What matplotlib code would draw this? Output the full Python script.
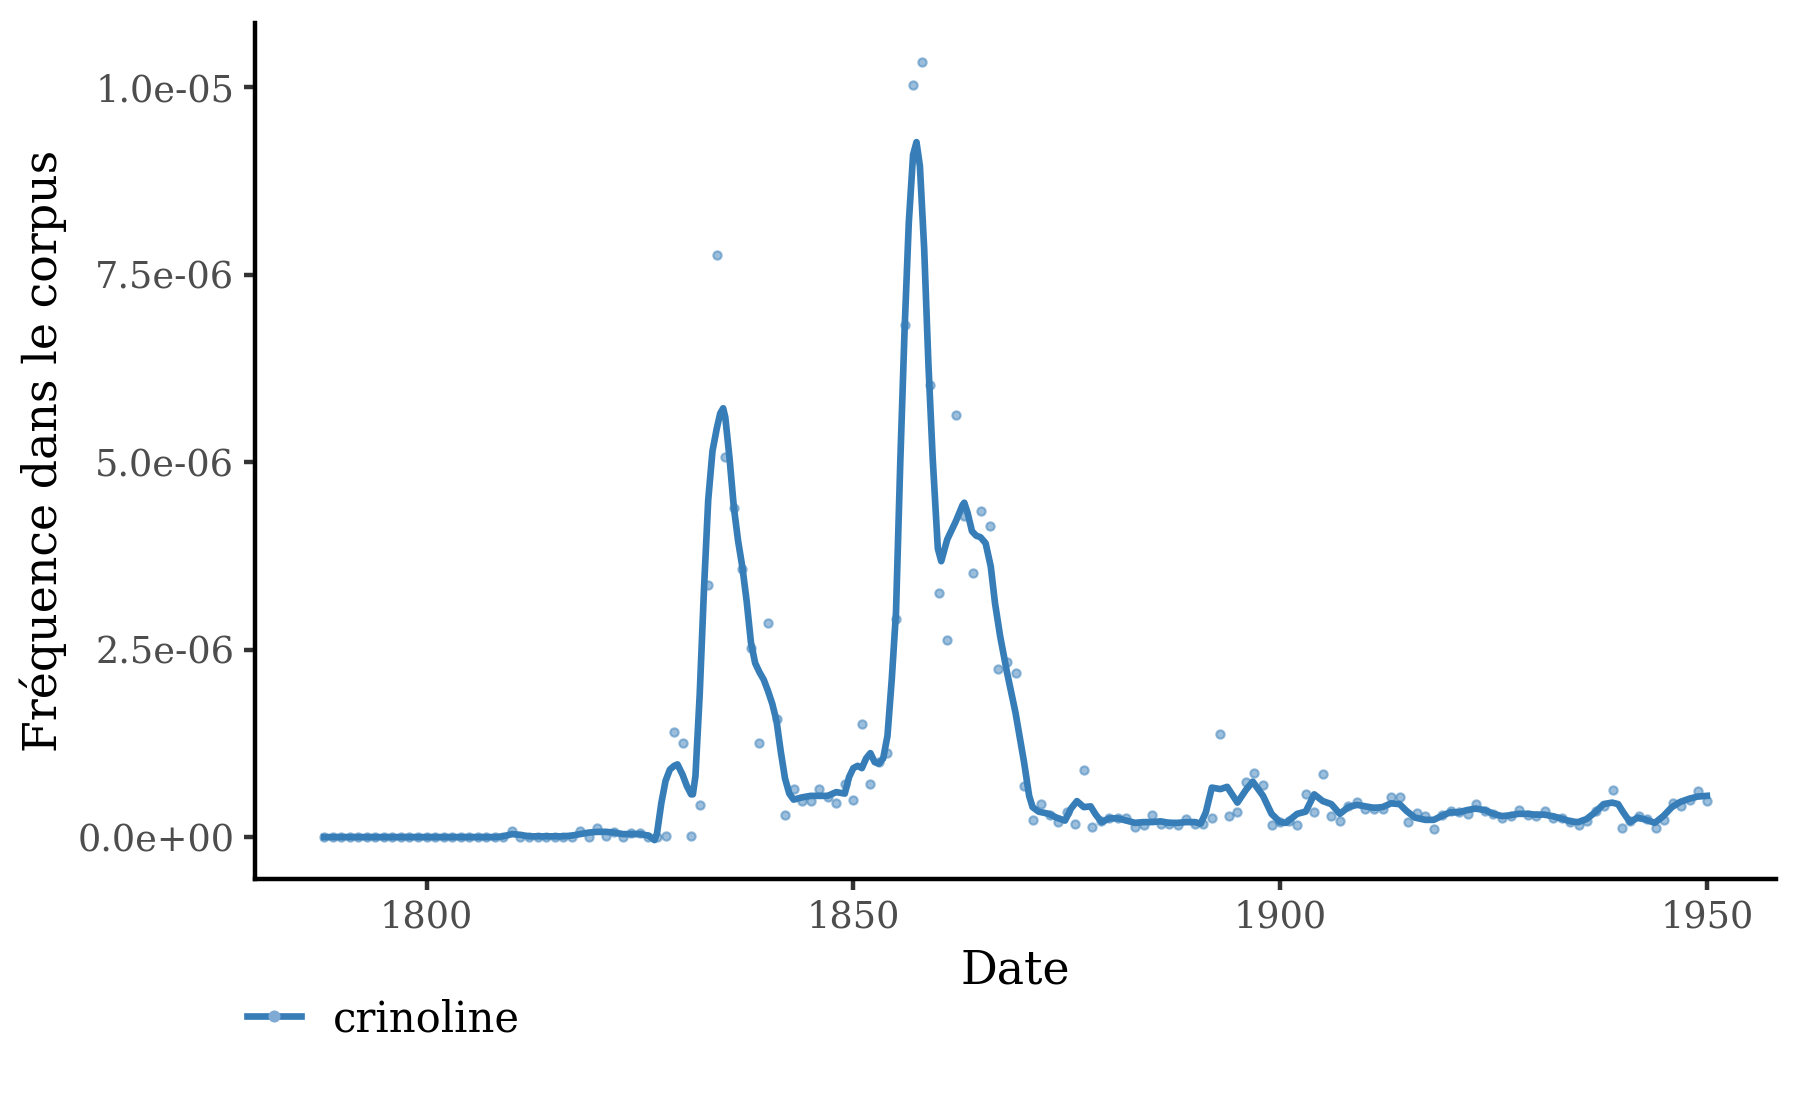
import matplotlib
matplotlib.use("Agg")
import matplotlib.pyplot as plt
from matplotlib.lines import Line2D
from matplotlib.ticker import FuncFormatter

plt.rcParams['font.family'] = ['DejaVu Serif']

# yearly frequencies (x 1e-6), 1788-1950
years = list(range(1788, 1951))
freq = [0.0] * 21 + [
    0.0, 0.08, 0.0, 0.0, 0.0, 0.0, 0.0, 0.0, 0.0, 0.08,              # 1809-1818
    0.0, 0.12, 0.02, 0.07, 0.0, 0.05, 0.06, 0.0, 0.0, 0.01,           # 1819-1828
    1.40, 1.26, 0.02, 0.43, 3.36, 7.76, 5.07, 4.39, 3.57, 2.52,       # 1829-1838
    1.26, 2.85, 1.58, 0.29, 0.64, 0.48, 0.48, 0.64, 0.53, 0.46,       # 1839-1848
    0.71, 0.50, 1.51, 0.71, 1.00, 1.12, 2.91, 6.83, 10.03, 10.34,     # 1849-1858
    6.03, 3.26, 2.63, 5.63, 4.28, 3.52, 4.35, 4.15, 2.24, 2.33,       # 1859-1868
    2.19, 0.68, 0.23, 0.44, 0.29, 0.20, 0.33, 0.17, 0.90, 0.14,       # 1869-1878
    0.22, 0.26, 0.26, 0.25, 0.14, 0.16, 0.29, 0.18, 0.17, 0.16,       # 1879-1888
    0.24, 0.18, 0.18, 0.26, 1.38, 0.28, 0.34, 0.74, 0.85, 0.69,       # 1889-1898
    0.16, 0.20, 0.22, 0.16, 0.57, 0.33, 0.84, 0.28, 0.21, 0.41,       # 1899-1908
    0.47, 0.37, 0.37, 0.38, 0.53, 0.53, 0.20, 0.32, 0.28, 0.11,       # 1909-1918
    0.29, 0.35, 0.33, 0.31, 0.44, 0.35, 0.31, 0.26, 0.28, 0.36,       # 1919-1928
    0.29, 0.28, 0.35, 0.26, 0.26, 0.20, 0.16, 0.22, 0.35, 0.42,       # 1929-1938
    0.63, 0.12, 0.22, 0.28, 0.24, 0.12, 0.23, 0.46, 0.41, 0.50,       # 1939-1948
    0.62, 0.48]                                                       # 1949-1950

# smoothed curve (x 1e-6)
smooth_x = [1788, 1798, 1808, 1809, 1810, 1811, 1812, 1816, 1817, 1818,
            1819, 1820, 1821, 1822, 1823, 1825, 1826, 1826.7, 1827, 1827.5,
            1828, 1828.5, 1829, 1829.4, 1830, 1830.5, 1831, 1831.2, 1831.5, 1832,
            1832.5, 1833, 1833.5, 1834, 1834.4, 1834.75, 1835, 1835.5, 1836, 1836.5,
            1837, 1837.5, 1838, 1838.5, 1839, 1839.5, 1840, 1840.5, 1841, 1841.5,
            1842, 1842.5, 1843, 1844, 1845, 1846, 1847, 1848, 1849, 1849.5,
            1850, 1850.5, 1851, 1851.5, 1852, 1852.5, 1853, 1853.5, 1854, 1854.5,
            1855, 1855.5, 1856, 1856.5, 1857, 1857.4, 1857.8, 1858.3, 1858.8, 1859.3,
            1859.9, 1860.3, 1861, 1862, 1862.8, 1863, 1863.4, 1863.9, 1864.4, 1864.9,
            1865.5, 1866.1, 1866.6, 1867.2, 1868, 1869, 1870, 1870.6, 1871, 1871.7,
            1872.9, 1873.8, 1874.8, 1875.5, 1876.2, 1877, 1877.8, 1878.4, 1879.1, 1880,
            1881, 1882, 1883, 1884, 1885, 1886, 1887, 1888, 1889, 1890,
            1890.7, 1891.3, 1892, 1893, 1893.8, 1895, 1896, 1896.8, 1898, 1899,
            1900, 1900.7, 1902, 1903, 1904, 1905, 1906, 1907, 1908, 1909,
            1910, 1911, 1912, 1913, 1914, 1914.8, 1915.8, 1917, 1918, 1918.9,
            1919.9, 1920.9, 1921.9, 1922.9, 1924, 1925, 1926, 1926.9, 1927.9, 1929,
            1929.9, 1930.9, 1931.9, 1932.9, 1934, 1934.9, 1935.9, 1936.9, 1937.9, 1938.9,
            1939.6, 1940.2, 1941, 1941.9, 1942.9, 1943.9, 1944.9, 1945.9, 1946.9, 1947.9,
            1948.9, 1950]
smooth_y = [0.0, 0.0, 0.0, 0.01, 0.04, 0.03, 0.01, 0.01, 0.02, 0.04,
            0.06, 0.07, 0.07, 0.06, 0.04, 0.04, 0.02, -0.04, 0.05, 0.45,
            0.75, 0.90, 0.95, 0.97, 0.83, 0.68, 0.57, 0.57, 0.81, 1.90,
            3.30, 4.50, 5.15, 5.45, 5.65, 5.72, 5.60, 5.05, 4.40, 3.95,
            3.60, 3.15, 2.60, 2.32, 2.20, 2.10, 1.95, 1.78, 1.55, 1.14,
            0.78, 0.58, 0.50, 0.53, 0.55, 0.55, 0.55, 0.60, 0.58, 0.80,
            0.92, 0.95, 0.92, 1.05, 1.12, 1.00, 0.98, 1.05, 1.35, 2.10,
            3.00, 5.00, 6.75, 8.20, 9.10, 9.27, 8.95, 7.85, 6.30, 5.05,
            3.85, 3.68, 3.97, 4.21, 4.43, 4.46, 4.32, 4.08, 4.02, 4.00,
            3.92, 3.61, 3.12, 2.68, 2.20, 1.66, 1.00, 0.55, 0.40, 0.34,
            0.31, 0.26, 0.22, 0.38, 0.48, 0.40, 0.41, 0.30, 0.20, 0.25,
            0.25, 0.22, 0.19, 0.20, 0.20, 0.21, 0.19, 0.19, 0.20, 0.20,
            0.18, 0.33, 0.66, 0.64, 0.67, 0.46, 0.63, 0.74, 0.55, 0.31,
            0.20, 0.19, 0.31, 0.34, 0.57, 0.48, 0.44, 0.31, 0.40, 0.43,
            0.41, 0.39, 0.40, 0.45, 0.44, 0.35, 0.26, 0.23, 0.23, 0.28,
            0.33, 0.33, 0.36, 0.38, 0.36, 0.31, 0.28, 0.29, 0.31, 0.31,
            0.30, 0.30, 0.28, 0.25, 0.21, 0.20, 0.24, 0.33, 0.44, 0.46,
            0.44, 0.33, 0.20, 0.26, 0.23, 0.19, 0.28, 0.40, 0.47, 0.51,
            0.54, 0.55]

word = "crinoline"
color = "#377EB8"

freq = [v * 1e-6 for v in freq]
smooth_y = [v * 1e-6 for v in smooth_y]

fig = plt.figure(figsize=(6, 3.71), dpi=300)
ax = fig.add_axes([255 / 1800, 1 - 879 / 1113, (1776 - 255) / 1800, (879 - 23) / 1113])

ax.plot(years, freq, linestyle="none", marker="o", markersize=2.0,
        markerfacecolor=color, markeredgecolor=color, markeredgewidth=0.5, alpha=0.5)
ax.plot(smooth_x, smooth_y, color=color, linewidth=1.6)

# ggplot-like 5% expansion
x0, x1 = min(years), max(years)
lo = min(min(freq), min(smooth_y))
hi = max(max(freq), max(smooth_y))
ax.set_xlim(x0 - 0.05 * (x1 - x0), x1 + 0.05 * (x1 - x0))
ax.set_ylim(lo - 0.05 * (hi - lo), hi + 0.05 * (hi - lo))

ax.set_xticks([1800, 1850, 1900, 1950])
ax.set_yticks([0, 2.5e-6, 5e-6, 7.5e-6, 1e-5])
ax.yaxis.set_major_formatter(FuncFormatter(lambda v, p: "%.1e" % v))

for s in ["top", "right"]:
    ax.spines[s].set_visible(False)
for s in ["left", "bottom"]:
    ax.spines[s].set_linewidth(1.07)
    ax.spines[s].set_color("black")
ax.tick_params(length=2.75, width=1.07, color="#333333", labelcolor="#4D4D4D",
               labelsize=8.8, pad=2.2)

ax.set_xlabel("Date", fontsize=11, labelpad=3)
ax.set_ylabel("Fréquence dans le corpus", fontsize=11, labelpad=2.4)

handle = Line2D([], [], color=color, linewidth=1.6, marker="o", markersize=1.9,
                markerfacecolor="#7FAAD4", markeredgecolor="#7FAAD4")
fig.legend([handle], [word], loc="center left", bbox_to_anchor=(247 / 1800, 1 - 1019 / 1113),
           frameon=False, fontsize=10, handlelength=1.3, handletextpad=0.75, borderpad=0,
           borderaxespad=0)

fig.savefig("out.png", dpi=300)
